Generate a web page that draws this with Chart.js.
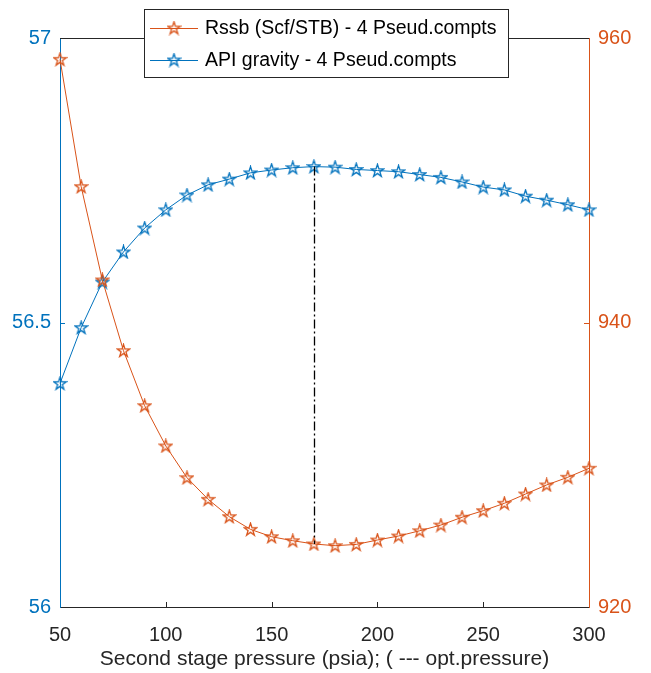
<!DOCTYPE html>
<html>
<head>
<meta charset="utf-8">
<script src="https://cdn.jsdelivr.net/npm/chart.js@4.4.1/dist/chart.umd.min.js"></script>
<style>
  html, body { margin: 0; padding: 0; background: #fff; }
</style>
</head>
<body>
<canvas id="myChart" width="651" height="673"></canvas>
<script>
// second stage pressure (psia)
const pressure = [50, 60, 70, 80, 90, 100, 110, 120, 130, 140, 150, 160, 170,
  180, 190, 200, 210, 220, 230, 240, 250, 260, 270, 280, 290, 300];
// API gravity (left axis)
const apiGravity = [56.393, 56.491, 56.571, 56.624, 56.666, 56.698, 56.724, 56.742,
  56.752, 56.763, 56.768, 56.772, 56.774, 56.773, 56.769, 56.767, 56.765, 56.760,
  56.755, 56.747, 56.738, 56.733, 56.722, 56.715, 56.707, 56.698];
// Rssb in Scf/STB (right axis)
const rssb = [958.5, 949.55, 942.99, 938.02, 934.15, 931.32, 929.09, 927.57, 926.35,
  925.46, 924.94, 924.66, 924.43, 924.31, 924.4, 924.71, 924.99, 925.36, 925.76,
  926.31, 926.77, 927.29, 927.94, 928.58, 929.12, 929.75];
const optPressure = 170;
const xTicks = [50, 100, 150, 200, 250, 300];
const leftTicks = [56, 56.5, 57];
const rightTicks = [920, 940, 960];
const seriesNames = ['Rssb (Scf/STB) - 4 Pseud.compts', 'API gravity - 4 Pseud.compts'];
const xTitle = 'Second stage pressure (psia); ( --- opt.pressure)';

const ORANGE = '#D95319';
const BLUE = '#0072BD';
const AXIS = '#262626';
const FONT = '"Liberation Sans", Arial, sans-serif';

// hollow pentagram marker like matlab's 'p'
function starMarker(color) {
  const c = document.createElement('canvas');
  c.width = 15; c.height = 15;
  const g = c.getContext('2d');
  const R = 6.6, r = R * 0.382, cx = 7.5, cy = 7.9;
  g.beginPath();
  for (let i = 0; i < 10; i++) {
    const rad = i % 2 === 0 ? R : r;
    const a = -Math.PI / 2 + i * Math.PI / 5;
    const px = cx + rad * Math.cos(a), py = cy + rad * Math.sin(a);
    if (i === 0) g.moveTo(px, py); else g.lineTo(px, py);
  }
  g.closePath();
  g.strokeStyle = color;
  g.lineWidth = 1.3;
  g.stroke();
  return c;
}
const starOrange = starMarker(ORANGE);
const starBlue = starMarker(BLUE);

const rssbPoints = pressure.map((p, i) => ({ x: p, y: rssb[i] }));
const apiPoints = pressure.map((p, i) => ({ x: p, y: apiGravity[i] }));

const matlabFrame = {
  id: 'matlabFrame',
  afterDatasetsDraw(chart) {
    const ctx = chart.ctx;
    const a = chart.chartArea;
    const sx = chart.scales.x, sy = chart.scales.y, sy2 = chart.scales.y2;
    ctx.save();
    // top box line
    ctx.strokeStyle = AXIS;
    ctx.lineWidth = 1;
    ctx.beginPath();
    ctx.moveTo(a.left, a.top + 0.5);
    ctx.lineTo(a.right, a.top + 0.5);
    ctx.stroke();
    // inward tick marks
    xTicks.slice(1, -1).forEach(v => {
      const px = Math.round(sx.getPixelForValue(v)) + 0.5;
      ctx.beginPath();
      ctx.moveTo(px, a.bottom);
      ctx.lineTo(px, a.bottom - 5);
      ctx.stroke();
    });
    ctx.strokeStyle = BLUE;
    leftTicks.slice(1, -1).forEach(v => {
      const py = Math.round(sy.getPixelForValue(v)) + 0.5;
      ctx.beginPath();
      ctx.moveTo(a.left, py);
      ctx.lineTo(a.left + 5, py);
      ctx.stroke();
    });
    ctx.strokeStyle = ORANGE;
    rightTicks.slice(1, -1).forEach(v => {
      const py = Math.round(sy2.getPixelForValue(v)) + 0.5;
      ctx.beginPath();
      ctx.moveTo(a.right, py);
      ctx.lineTo(a.right - 5, py);
      ctx.stroke();
    });
    // optimum pressure marker
    const k = pressure.indexOf(optPressure);
    const ox = Math.round(sx.getPixelForValue(optPressure)) + 0.5;
    ctx.strokeStyle = '#000';
    ctx.lineWidth = 1.3;
    ctx.setLineDash([9, 3, 2, 3]);
    ctx.beginPath();
    ctx.moveTo(ox, sy.getPixelForValue(apiGravity[k]));
    ctx.lineTo(ox, sy2.getPixelForValue(rssb[k]));
    ctx.stroke();
    ctx.setLineDash([]);

    // legend box
    const L = 144, T = 9, W = 364, H = 68;
    ctx.fillStyle = '#fff';
    ctx.fillRect(L, T, W, H);
    ctx.strokeStyle = AXIS;
    ctx.lineWidth = 1;
    ctx.strokeRect(L + 0.5, T + 0.5, W, H);
    const rows = [
      { y: T + 19, color: ORANGE, img: starOrange },
      { y: T + 51, color: BLUE, img: starBlue }
    ];
    ctx.font = '19.5px ' + FONT;
    ctx.textBaseline = 'middle';
    ctx.textAlign = 'left';
    rows.forEach((r, i) => {
      ctx.strokeStyle = r.color;
      ctx.lineWidth = 1;
      ctx.beginPath();
      ctx.moveTo(L + 6, r.y + 0.5);
      ctx.lineTo(L + 54, r.y + 0.5);
      ctx.stroke();
      ctx.drawImage(r.img, L + 30 - 7.5, r.y - 7.5);
      ctx.fillStyle = '#000';
      ctx.fillText(seriesNames[i], L + 61, r.y + 1);
    });
    ctx.restore();
  }
};

const plainLabel = v => String(v);

const config = {
  type: 'line',
  data: {
    datasets: [{
      label: seriesNames[0],
      data: rssbPoints,
      yAxisID: 'y2',
      borderColor: ORANGE,
      backgroundColor: ORANGE,
      borderWidth: 1,
      pointStyle: starOrange,
      pointRadius: 7,
      tension: 0,
      clip: false
    }, {
      label: seriesNames[1],
      data: apiPoints,
      yAxisID: 'y',
      borderColor: BLUE,
      backgroundColor: BLUE,
      borderWidth: 1,
      pointStyle: starBlue,
      pointRadius: 7,
      tension: 0,
      clip: false
    }]
  },
  options: {
    responsive: false,
    animation: false,
    events: [],
    layout: { padding: { top: 38, left: 0, right: 0, bottom: 0 } },
    plugins: { legend: { display: false }, tooltip: { enabled: false } },
    scales: {
      x: {
        type: 'linear',
        min: 50, max: 300,
        afterFit(s) { s.height = 66; },
        afterBuildTicks(s) { s.ticks = xTicks.map(v => ({ value: v })); },
        grid: { display: false, drawTicks: false },
        border: { display: true, color: AXIS, width: 1 },
        ticks: { color: AXIS, font: { family: FONT, size: 20 }, padding: 16, callback: plainLabel },
        title: {
          display: true, text: xTitle, color: AXIS,
          font: { family: FONT, size: 21 }, padding: { top: 0, bottom: 1 }
        }
      },
      y: {
        position: 'left',
        min: 56, max: 57,
        afterFit(s) { s.width = 60; },
        afterBuildTicks(s) { s.ticks = leftTicks.map(v => ({ value: v })); },
        grid: { display: false, drawTicks: false },
        border: { display: true, color: BLUE, width: 1 },
        ticks: { color: BLUE, font: { family: FONT, size: 20 }, padding: 9, callback: plainLabel }
      },
      y2: {
        position: 'right',
        min: 920, max: 960,
        afterFit(s) { s.width = 62; },
        afterBuildTicks(s) { s.ticks = rightTicks.map(v => ({ value: v })); },
        grid: { display: false, drawTicks: false },
        border: { display: true, color: ORANGE, width: 1 },
        ticks: { color: ORANGE, font: { family: FONT, size: 20 }, padding: 9, callback: plainLabel }
      }
    }
  },
  plugins: [matlabFrame]
};

const myChart = new Chart(document.getElementById('myChart'), config);
</script>
</body>
</html>
